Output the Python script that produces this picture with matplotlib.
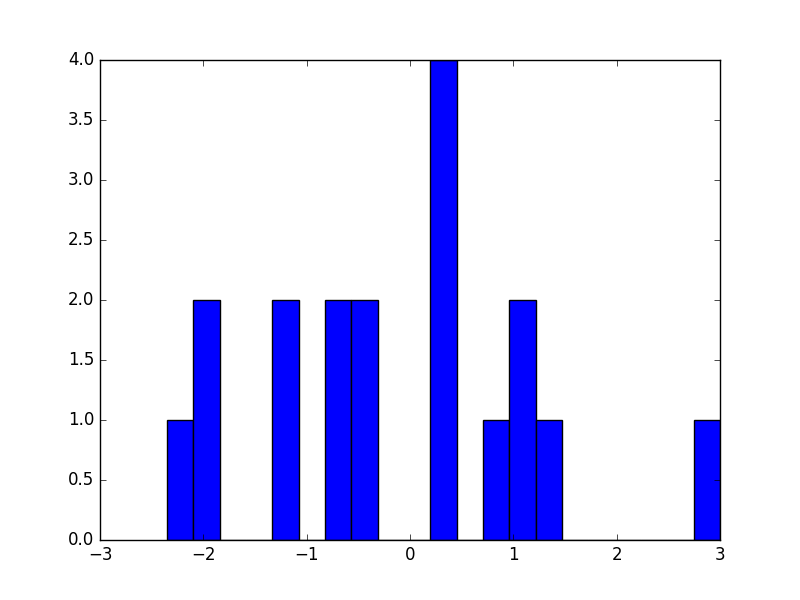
import matplotlib
matplotlib.use('Agg')
import matplotlib.pyplot as plt

plt.style.use('classic')

# sample values
samples = [-2.35, -2.0, -1.9, -1.25, -1.12, -0.75, -0.62, -0.48, -0.40,
           0.25, 0.30, 0.36, 0.41, 0.85, 1.02, 1.15, 1.30, 3.0]
n_bins = 21

fig = plt.figure(figsize=(8, 6), dpi=100)
plt.hist(samples, bins=n_bins, color='blue')
plt.xlim(-3, 3)
plt.ylim(0, 4)

plt.savefig('out.png', dpi=100, facecolor='white')
